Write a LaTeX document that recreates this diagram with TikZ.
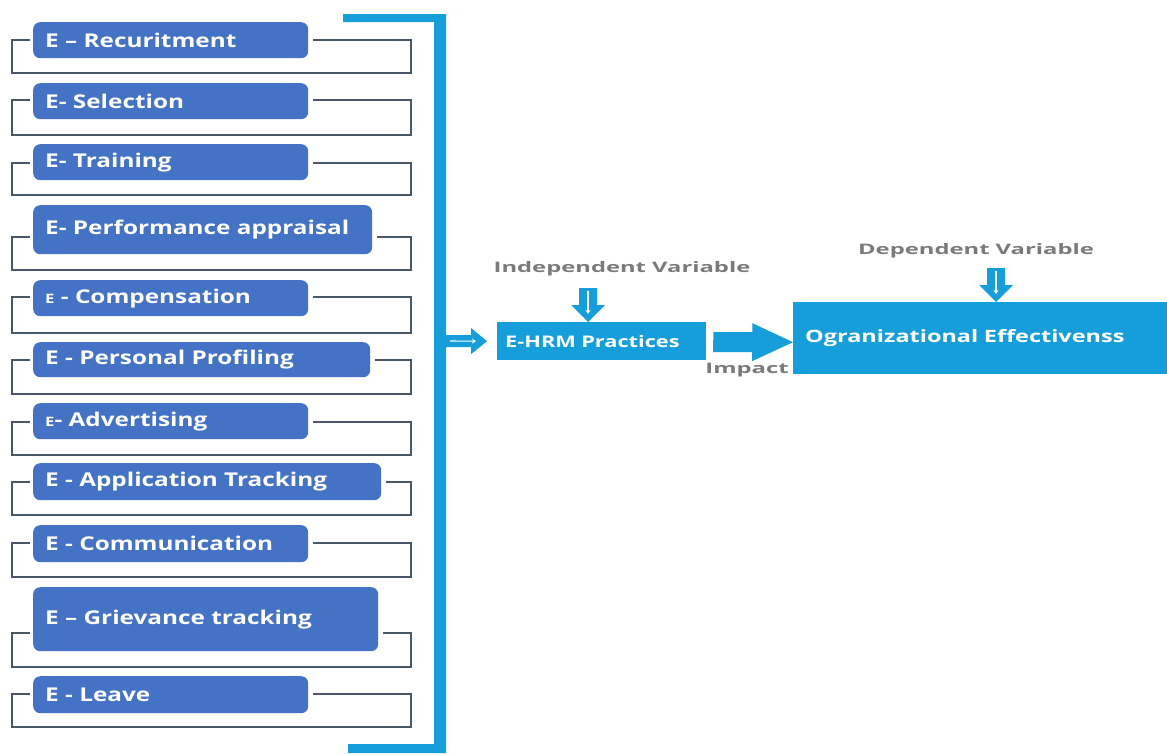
\documentclass[tikz,border=0pt]{standalone}
\usepackage{fontspec}
\setmainfont{Open Sans}
\newfontfamily\boxfont{Open Sans}[FakeStretch=1.28]
\newfontfamily\mainfont{Open Sans}[FakeStretch=1.36]
\newfontfamily\orgfont{Open Sans}[FakeStretch=1.38]
\newfontfamily\lblfont{Open Sans}[FakeStretch=1.64]
\usetikzlibrary{calc,arrows.meta}
\definecolor{boxblue}{RGB}{68,114,196}
\definecolor{skyblue}{RGB}{22,158,218}
\definecolor{brkgray}{RGB}{72,88,106}
\definecolor{lblgray}{RGB}{122,122,122}
\tikzset{
  ebox/.style={fill=boxblue, rounded corners=7pt, text=white,
    font=\boxfont\fontsize{19}{22}\selectfont\bfseries, anchor=north west,
    inner xsep=12pt, inner ysep=0pt, align=left},
  brk/.style={draw=brkgray, line width=2pt},
  mainbox/.style={fill=skyblue, text=white, anchor=north west,
    inner ysep=0pt, align=left},
  lbl/.style={text=lblgray, font=\lblfont\fontsize{14.5}{17}\selectfont\bfseries, inner sep=0pt},
  downarr/.pic={
    \fill[skyblue] (-9,-34) -- (9,-34) -- (9,-17) -- (17,-17) -- (0,0) -- (-17,-17) -- (-9,-17) -- cycle;
    \draw[white, line width=1.2pt, -{Stealth[length=4pt,width=5pt]}] (0,-31) -- (0,-8);
  }
}
\begin{document}
\begin{tikzpicture}[x=1pt,y=-1pt]
\useasboundingbox (0,0) rectangle (1167,753);
\fill[white] (0,0) rectangle (1167,753);

% left practice boxes with their brackets
\foreach \i/\txt/\ty/\bh/\bw/\by/\bb in {
  1/{E – Recuritment}/22/36/275/40/73,
  2/{E- Selection}/83/36/275/100/135,
  3/{E- Training}/144/36/275/163/195,
  4/{E- Performance appraisal}/205/49/339/237/270,
  5/{{\fontsize{13}{14}\selectfont E} - Compensation}/280/36/275/297/333,
  6/{E - Personal Profiling}/342/35/337/360/394,
  7/{{\fontsize{13}{14}\selectfont E}- Advertising}/403/36/275/422/455,
  8/{E - Application Tracking}/463/37/348/482/515,
  9/{E - Communication}/525/37/275/543/577,
  10/{E – Grievance tracking}/587/64/345/633/667,
  11/{E - Leave}/676/37/275/694/727}
{
  \pgfmathsetmacro\tw{\bw-24}
  \node[ebox, minimum height=\bh pt, text width=\tw pt] (b\i) at (33,\ty) {\txt};
  \coordinate (y\i) at (0,\by);
  \draw[brk] ($(b\i.west |- y\i)+(-3,0)$) -- (12,\by) -- (12,\bb) -- (411,\bb) -- (411,\by) -- ($(b\i.east |- y\i)+(5,0)$);
}

% thick blue bracket
\fill[skyblue] (343,14) -- (446,14) -- (446,753) -- (348,753) -- (348,744) -- (434,744) -- (434,22) -- (343,22) -- cycle;

% main boxes
\node[mainbox, font=\mainfont\fontsize{16}{19}\selectfont\bfseries, minimum height=38pt, text width=193pt, inner xsep=8pt] (ehrm) at (497,322) {E-HRM Practices};
\node[mainbox, font=\orgfont\fontsize{17}{20}\selectfont\bfseries, minimum height=72pt, text width=350pt, inner xsep=12pt] (org) at (793,302) {Ogranizational Effectivenss};

% arrow from bracket to E-HRM
\coordinate (barout) at (446,341);
\coordinate (ehrmin) at ($(ehrm.west)+(-10,0)$);
\fill[skyblue] (barout) ++(0,-6) -- ++(25,0) -- ++(0,-7) -- (ehrmin) -- ++(-16,13) -- ++(0,-7) -- ++(-25,0) -- cycle;
\draw[white, line width=1.1pt, -{Stealth[length=4pt,width=5pt]}] ($(barout)+(4,0)$) -- ($(ehrmin)+(-11,0)$);

% impact arrow
\coordinate (impstart) at ($(ehrm.east)+(7,1)$);
\coordinate (imptip) at (org.west |- impstart);
\fill[skyblue] (impstart) ++(0,-10) -- ++(39,0) -- ++(0,-9) -- (imptip) -- ++(-41,19) -- ++(0,-9) -- ++(-39,0) -- cycle;

% labels and down arrows
\node[lbl] (indep) at (622,269) {Independent Variable};
\pic at ($(ehrm.north west)+(91,0)$) {downarr};
\node[lbl] (dep) at (976,251) {Dependent Variable};
\pic at ($(org.north west)+(203,0)$) {downarr};
\node[lbl] (impact) at (747,370) {Impact};
\end{tikzpicture}
\end{document}
